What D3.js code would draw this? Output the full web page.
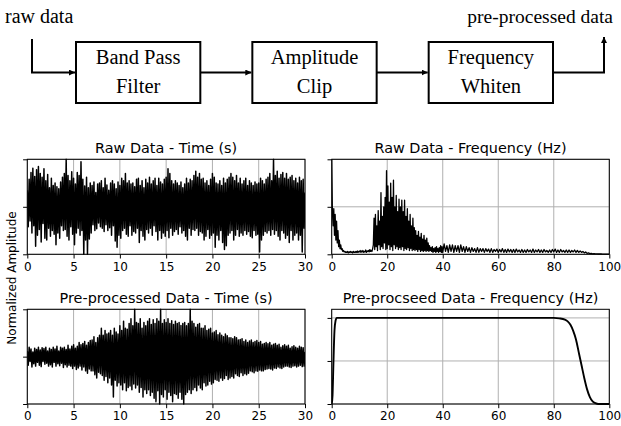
<!DOCTYPE html>
<html><head><meta charset="utf-8">
<script src="https://cdn.jsdelivr.net/npm/d3@7"></script>
<style>html,body{margin:0;padding:0;background:#fff}svg{display:block}</style>
</head><body><svg id="c" width="621" height="426"></svg>
<script>
// ---------- DATA ----------
const flowSteps = [["Band Pass","Filter"],["Amplitude","Clip"],["Frequency","Whiten"]];
const flowInput = "raw data";
const flowOutput = "pre-processed data";

const panelTitles = ["Raw Data - Time (s)","Raw Data - Frequency (Hz)","Pre-processed Data - Time (s)","Pre-procseed Data - Frequency (Hz)"];
const yLabel = "Normalized Amplitude";
const timeTicks = [0,5,10,15,20,25,30];
const freqTicks = [0,20,40,60,80,100];
const timeYTicks = [-1,0,1];
const freqYTicks = [0,0.5,1];

const timeStep = 0.1;   // seconds per sample
const rawTime = [
0.35,-0.42,0.58,-0.3,0.72,-0.55,0.81,-0.4,0.64,-0.83,
0.78,-0.6,0.85,-0.48,0.7,-0.74,0.62,-0.35,0.8,-0.66,
0.55,-0.7,0.68,-0.45,0.4,-0.62,0.6,-0.5,0.45,-0.58,
0.5,-0.8,0.42,-0.55,0.38,-0.66,0.52,-0.4,0.62,-0.5,
0.7,-0.48,1.0,-0.62,0.66,-0.7,0.55,-0.42,0.74,-0.58,
0.6,-0.8,0.48,-0.55,0.72,-0.45,0.66,-0.6,0.95,-0.5,
0.58,-1.0,0.44,-0.7,0.62,-1.0,0.4,-0.68,0.5,-0.55,
0.45,-0.38,0.52,-0.5,0.3,-0.46,0.48,-0.34,0.5,-0.42,
0.55,-0.45,0.4,-0.52,0.6,-0.38,0.46,-0.5,0.35,-0.44,
0.5,-0.6,0.55,-0.4,0.48,-0.72,0.38,-0.85,0.52,-0.6,
0.45,-0.66,0.6,-0.5,0.55,-0.45,0.7,-0.58,0.5,-0.62,
0.55,-0.4,0.48,-0.6,0.5,-0.52,0.42,-0.55,0.58,-0.45,
0.6,-0.75,0.45,-0.5,0.55,-0.62,0.4,-0.7,0.58,-0.48,
0.5,-0.55,0.62,-0.45,0.48,-0.6,0.55,-0.4,0.6,-0.52,
0.45,-0.7,0.6,-0.5,0.52,-0.66,0.48,-0.55,0.58,-0.62,
0.62,-0.5,0.8,-0.65,0.7,-0.45,0.55,-0.6,0.48,-0.52,
0.55,-0.48,0.5,-0.58,0.45,-0.42,0.52,-0.55,0.4,-0.5,
0.48,-0.62,0.6,-0.7,0.5,-0.45,0.58,-0.6,0.55,-0.48,
0.66,-0.5,0.75,-0.45,0.62,-0.6,0.7,-0.52,0.58,-0.55,
0.6,-0.7,0.5,-0.62,0.55,-0.48,0.45,-0.66,0.58,-0.6,
0.7,-0.55,0.62,-0.85,0.5,-0.6,0.48,-0.7,0.55,-0.5,
0.45,-0.75,0.6,-0.9,0.5,-0.82,0.58,-0.6,0.62,-0.55,
0.7,-0.5,0.62,-0.7,0.55,-0.6,0.66,-0.48,0.5,-0.62,
0.6,-0.55,0.48,-0.6,0.55,-0.5,0.6,-0.58,0.45,-0.52,
0.55,-0.62,0.5,-0.65,0.45,-0.5,0.52,-0.6,0.48,-0.58,
0.5,-0.95,0.6,-0.7,0.55,-0.6,0.48,-0.52,0.58,-0.55,
0.62,-0.5,0.7,-0.6,0.55,-0.48,1.0,-0.58,0.66,-0.5,
0.75,-0.62,0.6,-0.7,0.68,-0.5,0.72,-0.55,0.6,-0.66,
0.7,-0.6,0.58,-0.75,0.62,-0.5,0.66,-0.7,0.55,-0.6,
0.6,-0.55,0.5,-0.7,0.62,-0.6,0.55,-0.95,0.58,-0.45,0.3];

const procTime = [
0.12,-0.18,0.2,-0.1,0.16,-0.22,0.1,-0.15,0.18,-0.2,
0.15,-0.12,0.2,-0.18,0.14,-0.21,0.19,-0.1,0.17,-0.16,
0.2,-0.14,0.12,-0.2,0.18,-0.17,0.15,-0.22,0.2,-0.12,
0.16,-0.2,0.22,-0.15,0.12,-0.19,0.2,-0.14,0.18,-0.23,
0.2,-0.17,0.15,-0.22,0.24,-0.18,0.16,-0.2,0.22,-0.25,
0.25,-0.2,0.18,-0.27,0.22,-0.24,0.3,-0.2,0.25,-0.28,
0.28,-0.22,0.32,-0.3,0.24,-0.35,0.3,-0.26,0.34,-0.3,
0.35,-0.3,0.42,-0.38,0.3,-0.45,0.4,-0.33,0.45,-0.36,
0.6,-0.4,0.45,-0.5,0.55,-0.42,0.48,-0.55,0.5,-0.45,
0.55,-0.6,0.45,-0.85,0.6,-0.5,0.52,-0.62,0.48,-0.55,
0.65,-0.6,0.55,-0.7,0.75,-0.55,0.6,-0.72,0.58,-0.65,
0.7,-0.62,0.8,-0.7,0.65,-0.58,1.0,-0.66,0.72,-0.6,
0.7,-0.75,0.8,-0.65,0.6,-0.85,0.72,-0.7,0.65,-0.78,
0.75,-0.7,0.8,-0.82,0.68,-0.75,0.78,-0.88,0.7,-0.95,
0.8,-0.72,0.75,-1.0,1.0,-0.8,0.7,-0.85,0.78,-0.7,
0.72,-0.9,0.8,-0.75,0.7,-0.82,0.76,-0.95,0.68,-0.78,
0.75,-0.8,0.7,-0.88,0.72,-0.75,0.66,-0.9,0.7,-1.0,
0.72,-0.8,0.65,-0.75,0.7,-0.7,1.0,-0.78,0.75,-0.7,
0.7,-0.65,0.62,-0.72,0.68,-0.6,0.7,-0.66,0.6,-0.7,
0.6,-0.55,0.65,-0.62,0.55,-0.6,0.58,-0.52,0.6,-0.58,
0.5,-0.55,0.52,-0.48,0.55,-0.5,0.46,-0.52,0.5,-0.45,
0.45,-0.5,0.42,-0.46,0.48,-0.4,0.44,-0.48,0.4,-0.45,
0.4,-0.42,0.38,-0.45,0.42,-0.36,0.4,-0.4,0.35,-0.42,
0.36,-0.34,0.38,-0.4,0.32,-0.36,0.35,-0.38,0.3,-0.35,
0.33,-0.3,0.35,-0.32,0.3,-0.34,0.32,-0.3,0.34,-0.31,
0.3,-0.28,0.32,-0.3,0.26,-0.3,0.28,-0.27,0.3,-0.26,
0.27,-0.25,0.3,-0.26,0.24,-0.28,0.26,-0.24,0.28,-0.25,
0.24,-0.22,0.26,-0.24,0.2,-0.25,0.23,-0.22,0.25,-0.2,
0.22,-0.2,0.24,-0.22,0.18,-0.23,0.21,-0.2,0.23,-0.19,
0.2,-0.22,0.18,-0.2,0.22,-0.18,0.2,-0.21,0.19,-0.2,0.1];

// raw spectrum: 0.25 Hz samples from 0 to 39.75 Hz, then 0.5 Hz samples from 40 to 100 Hz
const rawFreqLowStep = 0.25;
const rawFreqLow = [
1.0,0.45,0.3,0.48,0.2,0.42,0.15,0.35,0.12,0.25,0.08,0.15,0.06,0.1,0.05,0.06,0.03,0.04,0.025,0.03,
0.02,0.025,0.02,0.03,0.015,0.025,0.02,0.03,0.02,0.025,0.015,0.03,0.02,0.025,0.02,0.03,0.02,0.035,0.02,0.03,
0.025,0.04,0.02,0.035,0.025,0.04,0.02,0.03,0.025,0.045,0.02,0.035,0.03,0.04,0.025,0.05,0.03,0.04,0.03,0.06,
0.1,0.38,0.05,0.42,0.08,0.3,0.04,0.46,0.1,0.35,0.05,0.65,0.08,0.4,0.06,0.5,0.12,0.6,0.05,0.88,
0.06,0.72,0.1,0.55,0.05,0.75,0.08,0.6,0.04,0.78,0.1,0.5,0.06,0.62,0.08,0.45,0.05,0.58,0.07,0.5,
0.05,0.57,0.08,0.45,0.04,0.57,0.06,0.4,0.05,0.48,0.07,0.35,0.04,0.42,0.06,0.3,0.04,0.38,0.05,0.28,
0.04,0.25,0.05,0.2,0.03,0.24,0.05,0.18,0.03,0.22,0.04,0.16,0.03,0.2,0.04,0.15,0.03,0.17,0.04,0.12,
0.03,0.09,0.04,0.07,0.03,0.08,0.02,0.06,0.03,0.07,0.02,0.08,0.03,0.06,0.02,0.07,0.03,0.09,0.02,0.08];
const rawFreqHighStart = 40, rawFreqHighStep = 0.5;
const rawFreqHigh = [
0.02,0.11,0.03,0.09,0.02,0.1,0.03,0.1,0.02,0.09,
0.03,0.09,0.02,0.1,0.03,0.08,0.02,0.08,0.03,0.07,
0.02,0.07,0.03,0.06,0.02,0.07,0.02,0.06,0.03,0.06,
0.02,0.06,0.03,0.055,0.02,0.06,0.02,0.05,0.03,0.055,
0.02,0.05,0.025,0.06,0.02,0.05,0.02,0.055,0.025,0.05,
0.02,0.05,0.02,0.055,0.025,0.045,0.02,0.05,0.02,0.045,
0.02,0.05,0.025,0.045,0.02,0.055,0.02,0.045,0.025,0.05,
0.02,0.045,0.02,0.05,0.025,0.04,0.02,0.045,0.02,0.05,
0.025,0.055,0.02,0.045,0.02,0.05,0.025,0.04,0.02,0.045,
0.02,0.045,0.02,0.04,0.025,0.045,0.02,0.04,0.02,0.035,
0.02,0.03,0.015,0.025,0.01,0.015,0.008,0.01,0.005,0.006,
0.004,0.004,0.003,0.003,0.003,0.002,0.002,0.002,0.002,0.002,0.002];

const whitenFreq = [0,0.3,0.6,1.0,1.4,1.8,2.5,80,82,84,85,86,87,88,89,90,91,92,93,94,95,96,100];
const whitenAmp  = [0,0.1,0.45,0.85,0.97,1.0,1.0,1.0,0.995,0.98,0.96,0.92,0.85,0.75,0.6,0.45,0.3,0.17,0.08,0.03,0.01,0,0];

// ---------- DRAW ----------
const svg = d3.select("#c");
const serif = "'Liberation Serif','Times New Roman',serif";
const sans = "'DejaVu Sans',sans-serif";

svg.append("defs").append("marker").attr("id","arr").attr("viewBox","0 0 10 10")
  .attr("refX",10).attr("refY",5).attr("markerWidth",6).attr("markerHeight",6)
  .attr("markerUnits","userSpaceOnUse").attr("orient","auto")
  .append("path").attr("d","M0,0L10,5L0,10Z").attr("fill","#000");

// flowchart
const fx = d3.scaleBand().domain(d3.range(flowSteps.length)).range([76,553]).paddingInner(0.295);
const boxTop = 42, boxH = 61, midY = boxTop + boxH/2;
const fg = svg.append("g");
const sw = 2;
fg.selectAll("rect").data(flowSteps).join("rect")
  .attr("x",(d,i)=>fx(i)).attr("y",boxTop).attr("width",fx.bandwidth()).attr("height",boxH)
  .attr("fill","none").attr("stroke","#000").attr("stroke-width",sw);
flowSteps.forEach((s,i)=>{
  s.forEach((t,j)=>{
    fg.append("text").attr("x",fx(i)+fx.bandwidth()/2).attr("y",boxTop+22+j*29)
      .attr("text-anchor","middle").attr("font-family",serif).attr("font-size",20.5).text(t);
  });
});
const inX = 32, outX = 604;
fg.append("path").attr("d",`M${inX},${boxTop-3}V${midY}H${fx(0)-1}`).attr("fill","none")
  .attr("stroke","#000").attr("stroke-width",sw).attr("marker-end","url(#arr)");
for(let i=0;i<flowSteps.length-1;i++){
  fg.append("path").attr("d",`M${fx(i)+fx.bandwidth()},${midY}H${fx(i+1)-1}`).attr("fill","none")
    .attr("stroke","#000").attr("stroke-width",sw).attr("marker-end","url(#arr)");
}
const last = flowSteps.length-1;
fg.append("path").attr("d",`M${fx(last)+fx.bandwidth()},${midY}H${outX}V${boxTop-5}`).attr("fill","none")
  .attr("stroke","#000").attr("stroke-width",sw).attr("marker-end","url(#arr)");
fg.append("text").attr("x",5).attr("y",23).attr("font-family",serif).attr("font-size",20).text(flowInput);
fg.append("text").attr("x",613).attr("y",23).attr("text-anchor","end").attr("font-family",serif).attr("font-size",19.5).text(flowOutput);

// panels
const rawFreqPts = rawFreqLow.map((v,i)=>[i*rawFreqLowStep,v])
  .concat(rawFreqHigh.map((v,i)=>[rawFreqHighStart+i*rawFreqHighStep,v]));
const colX = [[27.3,305],[331.7,609.3]];
const rowY = [[159.3,254.3],[309.3,404]];
const panels = [
  {c:0,r:0,title:panelTitles[0],xd:[0,30],xt:timeTicks,yd:[-1,1],yt:timeYTicks,
   pts:rawTime.map((v,i)=>[i*timeStep,v]),lw:1.5,curve:d3.curveLinear},
  {c:1,r:0,title:panelTitles[1],xd:[0,100],xt:freqTicks,yd:[0,1],yt:freqYTicks,
   pts:rawFreqPts,lw:1.3,curve:d3.curveLinear},
  {c:0,r:1,title:panelTitles[2],xd:[0,30],xt:timeTicks,yd:[-1,1],yt:timeYTicks,
   pts:procTime.map((v,i)=>[i*timeStep,v]),lw:1.5,curve:d3.curveLinear},
  {c:1,r:1,title:panelTitles[3],xd:[0,100],xt:freqTicks,yd:[0,1.1],yt:freqYTicks,
   pts:whitenFreq.map((f,i)=>[f,whitenAmp[i]]),lw:1.9,curve:d3.curveMonotoneX},
];

panels.forEach((p,k)=>{
  const [x0,x1] = colX[p.c], [y0,y1] = rowY[p.r];
  const x = d3.scaleLinear().domain(p.xd).range([x0,x1]);
  const y = d3.scaleLinear().domain(p.yd).range([y1,y0]);
  const g = svg.append("g");
  g.append("g").selectAll("line").data(p.xt).join("line")
    .attr("x1",d=>x(d)).attr("x2",d=>x(d)).attr("y1",y0).attr("y2",y1)
    .attr("stroke","#b0b0b0").attr("stroke-width",1);
  g.append("g").selectAll("line").data(p.yt).join("line")
    .attr("x1",x0).attr("x2",x1).attr("y1",d=>y(d)).attr("y2",d=>y(d))
    .attr("stroke","#b0b0b0").attr("stroke-width",1);
  const cid = "clip"+k;
  svg.append("clipPath").attr("id",cid).append("rect").attr("x",x0).attr("y",y0-1).attr("width",x1-x0).attr("height",y1-y0+2);
  g.append("path").datum(p.pts).attr("clip-path",`url(#${cid})`)
    .attr("d",d3.line().x(d=>x(d[0])).y(d=>y(d[1])).curve(p.curve))
    .attr("fill","none").attr("stroke","#000").attr("stroke-width",p.lw).attr("stroke-linejoin","round");
  const xa = g.append("g").attr("transform",`translate(0,${y1})`)
    .call(d3.axisBottom(x).tickValues(p.xt).tickSize(4.2).tickPadding(3.5).tickFormat(d3.format("d")));
  xa.select(".domain").remove();
  xa.selectAll("text").attr("font-family",sans).attr("font-size",12).attr("fill","#000");
  xa.selectAll("line").attr("stroke","#000").attr("stroke-width",1);
  const ya = g.append("g").attr("transform",`translate(${x0},0)`)
    .call(d3.axisLeft(y).tickValues(p.yt).tickSize(4.2).tickFormat(""));
  ya.select(".domain").remove();
  ya.selectAll("line").attr("stroke","#000").attr("stroke-width",1);
  g.append("rect").attr("x",x0).attr("y",y0).attr("width",x1-x0).attr("height",y1-y0)
    .attr("fill","none").attr("stroke","#000").attr("stroke-width",1);
  g.append("text").attr("x",(x0+x1)/2).attr("y",y0-6.5).attr("text-anchor","middle")
    .attr("font-family",sans).attr("font-size",14.4).text(p.title);
});

svg.append("text").attr("transform","translate(16,278) rotate(-90)").attr("text-anchor","middle")
  .attr("font-family",sans).attr("font-size",12).text(yLabel);
</script>
</body></html>
